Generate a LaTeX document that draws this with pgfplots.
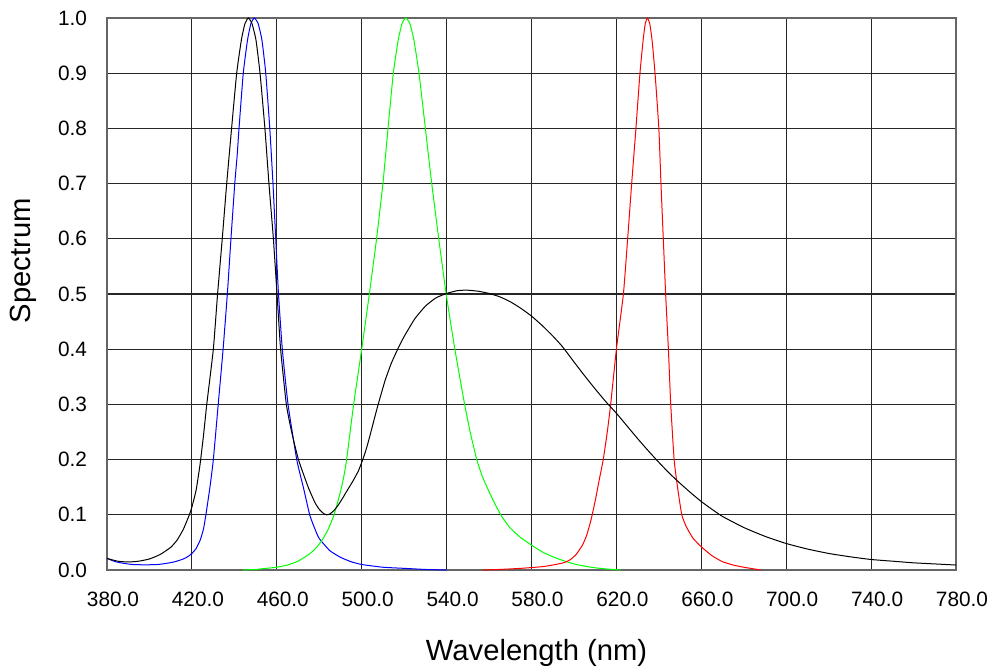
\documentclass[border=0pt]{standalone}
\usepackage{fontspec}
\setmainfont{Liberation Sans}
\usepackage{pgfplots}
\pgfplotsset{compat=1.18}
\begin{document}
\begin{tikzpicture}
\useasboundingbox (-53.5pt,-50pt) rectangle (442.5pt,285pt);
\begin{axis}[
  scale only axis, width=424.5pt, height=276pt,
  xmin=380, xmax=780, ymin=0, ymax=1,
  xtick={380,420,460,500,540,580,620,660,700,740,780},
  ytick={0,0.1,0.2,0.3,0.4,0.5,0.6,0.7,0.8,0.9,1.0},
  /pgf/number format/.cd, fixed, fixed zerofill, precision=1, 1000 sep={}, assume math mode=true,
  /pgfplots/.cd,
  tick label style={font=\fontsize{10.4}{12}\selectfont},
  major tick length=0pt,
  grid=major, major grid style={black!85, line width=0.6pt},
  axis line style={black!60, line width=0.9pt},
  xticklabel style={yshift=-7.6pt, xshift=3pt},
  yticklabel style={xshift=-6.5pt},
  xlabel={Wavelength (nm)}, ylabel={Spectrum},
  every axis x label/.style={at={(rel axis cs:0.506,0)}, yshift=-41.5pt, anchor=center, font=\fontsize{14.6}{17}\selectfont},
  every axis y label/.style={at={(rel axis cs:0,0.56)}, xshift=-42pt, rotate=90, anchor=center, font=\fontsize{14.6}{17}\selectfont},
]
% blue
\addplot[blue, line width=0.5pt, smooth, tension=0.3] coordinates {
(380,0.021)(384,0.015)(388,0.012)(392,0.010)(396,0.0095)(400,0.0095)(404,0.010)(408,0.012)
(412,0.015)(416,0.020)(418,0.024)(420,0.030)(422,0.039)(424,0.055)(425.5,0.075)(426.6,0.10)(428.5,0.15)
(430.1,0.20)(432.4,0.30)(434.7,0.40)(436.7,0.50)(438.4,0.60)(440.2,0.70)(441.3,0.75)(442.2,0.80)
(444.2,0.90)(446.2,0.96)(447.8,0.99)(449.4,1.00)(451.2,0.99)(453.0,0.96)(454.8,0.90)(456.7,0.80)
(458.2,0.70)(459.5,0.60)(460.8,0.50)(462.6,0.40)(465.3,0.30)(469.4,0.20)(472.5,0.15)(475.5,0.10)
(478,0.074)(480,0.057)(485,0.035)(490,0.023)(495,0.015)(500,0.010)(510,0.005)(520,0.003)(530,0.001)(540,0.0)
};
% green
\addplot[green, line width=0.5pt, smooth, tension=0.3] coordinates {
(444,0.0)(450,0.001)(455,0.003)(460,0.005)(465,0.009)(470,0.016)(475,0.028)(478,0.038)(481,0.052)
(484,0.072)(486.5,0.095)(488.2,0.116)(490,0.142)(491.5,0.168)(492.9,0.20)(496.2,0.30)(500,0.40)
(503.6,0.50)(507,0.60)(510,0.70)(512.4,0.80)(514.9,0.90)(517.2,0.96)(519,0.99)(520.8,1.00)
(522.7,0.99)(524.6,0.96)(527,0.90)(530,0.80)(533,0.70)(536.3,0.60)(539.8,0.50)(543.9,0.40)
(548.5,0.30)(551,0.252)(554.2,0.20)(557,0.168)(560,0.142)(563,0.118)(566,0.097)(570,0.076)(574.5,0.060)(580,0.045)
(585,0.033)(590,0.024)(595,0.017)(600,0.011)(605,0.007)(610,0.004)(615,0.002)(622,0.0)
};
% red
\addplot[red, line width=0.5pt, smooth, tension=0.3] coordinates {
(557,0.0)(565,0.001)(575,0.003)(585,0.006)(590,0.009)(595,0.013)(598,0.018)(601,0.028)
(604,0.045)(606,0.063)(608,0.09)(610,0.125)(612,0.165)(613.8,0.20)(615.7,0.25)
(617.3,0.30)(620.0,0.40)(623.3,0.50)(625.3,0.60)(627.2,0.70)(629.2,0.80)(631.1,0.90)(632.6,0.96)
(633.6,0.99)(634.6,1.00)(635.7,0.99)(636.8,0.96)(638.2,0.90)(640.0,0.80)(641.0,0.70)(642.1,0.60)
(643.2,0.50)(644.5,0.40)(645.6,0.30)(647.2,0.20)(648.8,0.15)(650.8,0.10)(653,0.078)(656,0.058)
(660,0.042)(665,0.026)(670,0.015)(675,0.009)(680,0.005)(688,0.0)
};
% black
\addplot[black, line width=0.5pt, smooth, tension=0.3] coordinates {
(380,0.021)(385,0.016)(390,0.0145)(395,0.016)(400,0.020)(405,0.028)(410,0.041)(413,0.054)
(416,0.074)(418.8,0.10)(420,0.114)(422,0.145)(423.8,0.19)(425.5,0.245)(427,0.30)(430.1,0.40)
(432.1,0.50)(434.3,0.60)(436.4,0.70)(438.7,0.80)(441.1,0.90)(443.3,0.96)(445,0.99)(446.6,1.00)
(448.3,0.99)(450.2,0.96)(452.1,0.90)(454.4,0.80)(456.3,0.70)(458.4,0.60)(460.1,0.50)(461.8,0.40)
(464.5,0.30)(467.0,0.25)(470.2,0.20)(474.8,0.15)(478,0.122)(480,0.110)(482,0.1025)(483.5,0.100)
(485,0.1015)(487,0.108)(489,0.118)(491,0.130)(493,0.143)(496,0.162)(498.5,0.180)(500.5,0.200)
(502.3,0.221)(504.2,0.248)(507.4,0.295)(511,0.343)(514,0.375)(517.2,0.402)(520,0.423)(525,0.455)
(530,0.478)(535,0.493)(540,0.501)(545,0.506)(549.5,0.507)(555,0.505)(560,0.501)(565,0.495)
(570,0.486)(575,0.474)(580,0.460)(585,0.443)(590,0.424)(594.5,0.405)(600,0.377)(605,0.352)
(610,0.328)(615,0.305)(620,0.284)(625,0.261)(630,0.238)(635,0.216)(640,0.195)(645,0.175)
(650,0.157)(655,0.140)(660,0.124)(665,0.110)(670,0.097)(680,0.077)(690,0.061)(700,0.048)
(710,0.038)(720,0.030)(730,0.024)(740,0.019)(750,0.016)(760,0.013)(770,0.011)(780,0.009)
};
\end{axis}
\end{tikzpicture}
\end{document}
